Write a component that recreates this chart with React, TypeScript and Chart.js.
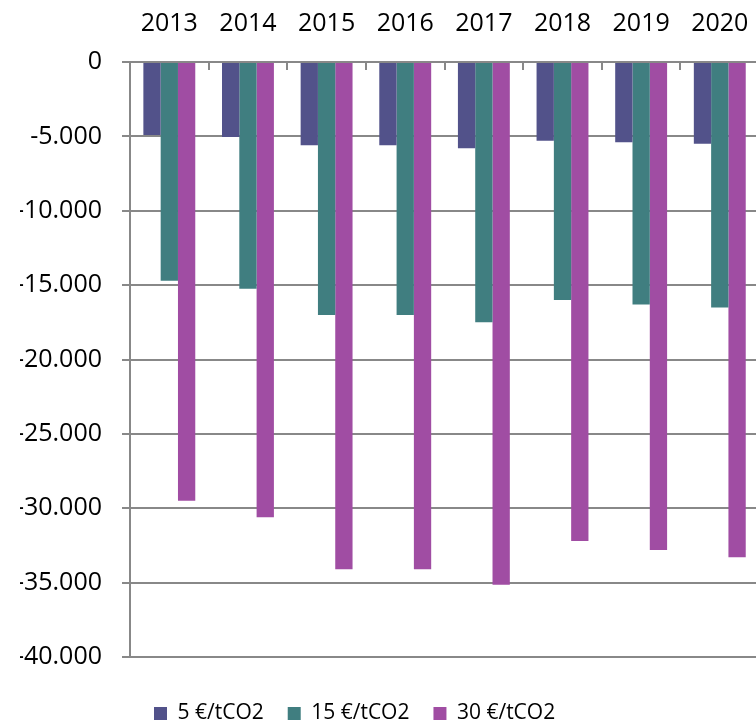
import React, { useEffect, useRef } from 'react';
import { Chart, registerables } from 'chart.js';

Chart.register(...registerables);

const years = ['2013', '2014', '2015', '2016', '2017', '2018', '2019', '2020'];
const seriesLabels = ['5 €/tCO2', '15 €/tCO2', '30 €/tCO2'];
const s5 = [-4900, -5050, -5600, -5600, -5800, -5300, -5400, -5500];
const s15 = [-14700, -15250, -17000, -17000, -17500, -16000, -16300, -16500];
const s30 = [-29500, -30600, -34100, -34100, -35150, -32200, -32800, -33300];
const yMin = -40000;
const yMax = 0;
const yStep = 5000;

const colors = ['#52528A', '#407E80', '#A04DA3'];
const GRID = '#888888';
const AXIS_FONT = { family: '"Open Sans", Lato, sans-serif', size: 25 };
const LEGEND_FONT = { family: '"Open Sans", Lato, sans-serif', size: 21 };

function fmt(v: number): string {
  const neg = v < 0;
  const s = Math.abs(Math.round(v)).toString().replace(/\B(?=(\d{3})+(?!\d))/g, '.');
  return (neg ? '-' : '') + s;
}

export default function App() {
  const ref = useRef<HTMLCanvasElement>(null);
  useEffect(() => {
    const canvas = ref.current!;
    const chart = new Chart(canvas, {
      type: 'bar',
      data: {
        labels: years,
        datasets: [s5, s15, s30].map((d, i) => ({
          label: seriesLabels[i],
          data: d,
          backgroundColor: colors[i],
          borderWidth: 0,
          categoryPercentage: 0.66,
          barPercentage: 1.0,
        })),
      },
      options: {
        animation: false,
        responsive: false,
        devicePixelRatio: 1,
        layout: { padding: { left: 20, right: 10, top: 10, bottom: 6 } },
        plugins: {
          tooltip: { enabled: false },
          legend: {
            position: 'bottom',
            align: 'start',
            fullSize: false,
            title: { display: true, text: '', font: { size: 10 }, padding: { top: 0, bottom: 10 } },
            labels: {
              boxWidth: 13,
              boxHeight: 13,
              padding: 24,
              color: '#000',
              font: LEGEND_FONT,
            },
          },
        },
        scales: {
          x: {
            position: 'top',
            afterFit: (s: any) => { s.height = 52; },
            grid: { drawOnChartArea: false, tickLength: -8, color: GRID, lineWidth: 2, offset: true },
            border: { display: true, color: GRID, width: 2 },
            ticks: { font: AXIS_FONT, color: '#000', padding: 31 },
          },
          y: {
            min: yMin,
            max: yMax,
            afterFit: (s: any) => { s.width = 110; },
            ticks: {
              stepSize: yStep,
              callback: (v: any) => fmt(Number(v)),
              font: AXIS_FONT,
              color: '#000',
              padding: 20,
            },
            grid: { color: GRID, lineWidth: 2, tickLength: 8 },
            border: { display: true, color: GRID, width: 2 },
          },
        },
      },
    } as any);
    return () => chart.destroy();
  }, []);
  return (
    <div style={{ position: 'fixed', left: 0, top: 0, width: 756, height: 724, overflow: 'hidden', background: '#fff' }}>
      <canvas ref={ref} width={780} height={740} style={{ display: 'block' }} />
    </div>
  );
}
